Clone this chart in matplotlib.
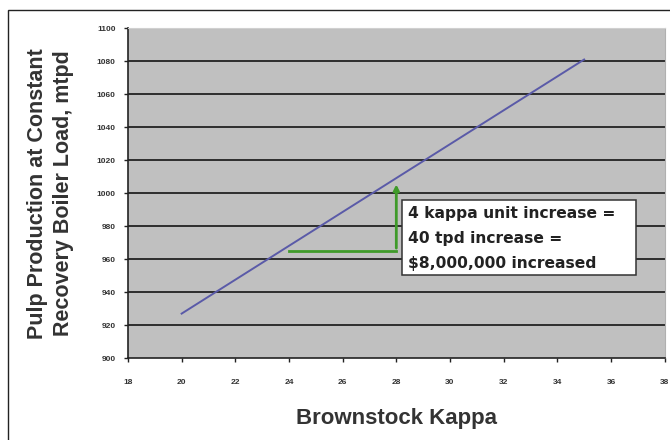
import matplotlib.pyplot as plt
from matplotlib.patches import Rectangle

plt.rcParams['font.family'] = ['Liberation Sans', 'DejaVu Sans']

# line
kappa = [20, 35]
production = [927, 1081]

# green bracket: 4 kappa units -> ~40 tpd
bracket_kappa = [24, 28, 28]
bracket_prod = [965, 965, 1007]

x_ticks = [18, 20, 22, 24, 26, 28, 30, 32, 34, 36, 38]
y_ticks = [900, 920, 940, 960, 980, 1000, 1020, 1040, 1060, 1080, 1100]
note_lines = ['4 kappa unit increase =', '40 tpd increase =', '$8,000,000 increased']

fig = plt.figure(figsize=(6.7, 4.4), dpi=100)
fig.patch.set_facecolor('white')
ax = fig.add_axes([0.191, 0.186, 0.801, 0.750])
ax.set_facecolor('#c0c0c0')

# horizontal gridlines (excel style)
for y in y_ticks[1:-1]:
    ax.axhline(y, color='#222222', linewidth=1.3, zorder=1)

ax.plot(kappa, production, color='#5a5aa8', linewidth=1.4, zorder=3)

# green bracket with arrow at top
ax.plot(bracket_kappa[:2], bracket_prod[:2], color='#3f9a2a', linewidth=2.0, zorder=4)
ax.annotate('', xy=(bracket_kappa[2], bracket_prod[2]), xytext=(bracket_kappa[1], bracket_prod[1]),
            arrowprops=dict(arrowstyle='-|>', color='#3f9a2a', lw=2.0, mutation_scale=8), zorder=4)

# note box, text runs down to the bottom edge like the original
ax.add_patch(Rectangle((28.2, 950.3), 8.72, 45.5, facecolor='white', edgecolor='#333333',
                       linewidth=1.1, zorder=5))
ax.text(28.45, 992.5, '\n'.join(note_lines), fontsize=11.2, fontweight='bold', color='#222222',
        family='DejaVu Sans', va='top', ha='left', linespacing=1.85, zorder=6, clip_on=False)

ax.set_xlim(18, 38)
ax.set_ylim(900, 1100)
ax.set_xticks(x_ticks)
ax.set_yticks(y_ticks)
ax.tick_params(axis='both', labelsize=6, length=3, width=1.0, color='#222222', labelcolor='#333333')
for lbl in ax.get_xticklabels() + ax.get_yticklabels():
    lbl.set_fontweight('bold')
ax.tick_params(axis='x', pad=12)
ax.tick_params(axis='y', pad=6)

ax.spines['left'].set_color('#222222')
ax.spines['bottom'].set_color('#222222')
ax.spines['left'].set_linewidth(1.2)
ax.spines['bottom'].set_linewidth(1.2)
ax.spines['top'].set_color('#d0d0d0')
ax.spines['right'].set_color('#b0b0b0')

ax.set_xlabel('Brownstock Kappa', fontsize=16, fontweight='bold', color='#333333', labelpad=16)
ax.set_ylabel('Pulp Production at Constant\nRecovery Boiler Load, mtpd', fontsize=15.5,
              fontweight='bold', color='#333333', labelpad=16, linespacing=1.3)

# outer frame of the original picture
fig.patches.append(Rectangle((8 / 670, -0.05), 1.1, 1 - 10 / 440 + 0.05, transform=fig.transFigure,
                             fill=False, edgecolor='#222222', linewidth=1.0))

fig.savefig('out.png', dpi=100)
